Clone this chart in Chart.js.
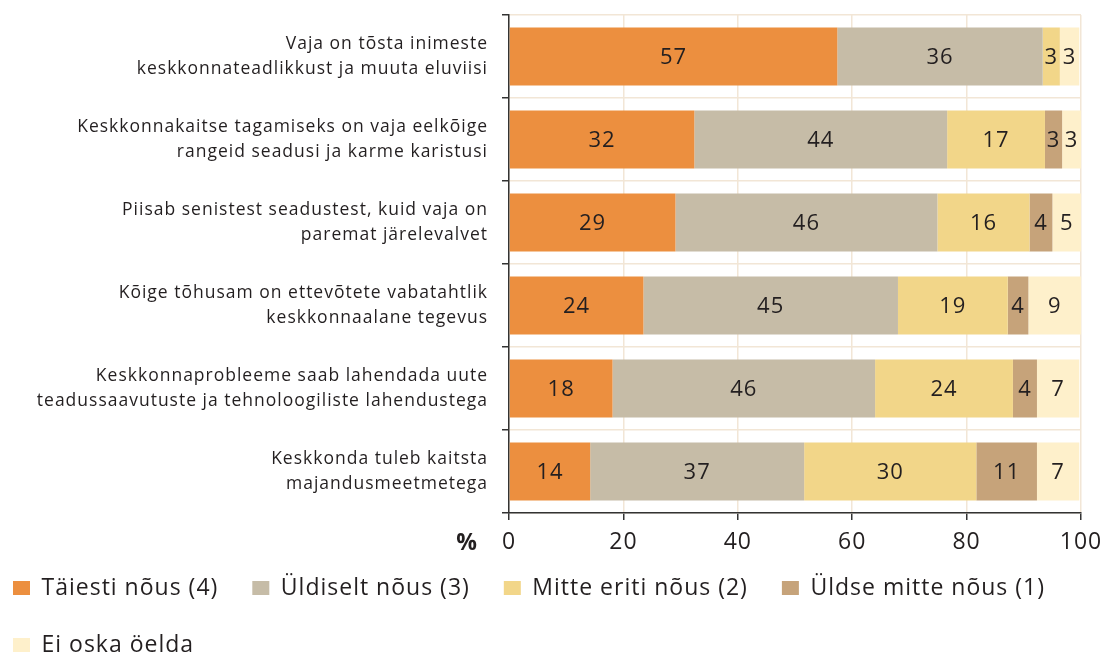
<!DOCTYPE html>
<html>
<head>
<meta charset="utf-8">
<script src="https://cdn.jsdelivr.net/npm/chart.js@4.4.1/dist/chart.umd.min.js"></script>
<style>
  html, body { margin: 0; padding: 0; background: #fff; }
  #wrap { width: 1104px; height: 656px; }
</style>
</head>
<body>
<div id="wrap"><canvas id="chart"></canvas></div>
<script>
// andmed
const categories = [
    ["Vaja on tõsta inimeste", "keskkonnateadlikkust ja muuta eluviisi"],
    ["Keskkonnakaitse tagamiseks on vaja eelkõige", "rangeid seadusi ja karme karistusi"],
    ["Piisab senistest seadustest, kuid vaja on", "paremat järelevalvet"],
    ["Kõige tõhusam on ettevõtete vabatahtlik", "keskkonnaalane tegevus"],
    ["Keskkonnaprobleeme saab lahendada uute", "teadussaavutuste ja tehnoloogiliste lahendustega"],
    ["Keskkonda tuleb kaitsta", "majandusmeetmetega"]
];
const seriesNames = ["Täiesti nõus (4)", "Üldiselt nõus (3)", "Mitte eriti nõus (2)", "Üldse mitte nõus (1)", "Ei oska öelda"];
const taiestiNous = [57.4, 32.4, 29.1, 23.5, 18.1, 14.2];
const uldiseltNous = [35.9, 44.2, 45.8, 44.5, 45.9, 37.4];
const mitteEritiNous = [3.0, 17.1, 16.1, 19.2, 24.1, 30.1];
const uldseMitteNous = [0, 3.0, 4.0, 3.6, 4.2, 10.6];
const eiOskaOelda = [3.4, 3.3, 5.0, 9.2, 7.4, 7.4];
const xTicks = [0, 20, 40, 60, 80, 100];

const colors = ["#EC8F3F", "#C6BCA7", "#F2D689", "#C6A37A", "#FEF0CB"];
const textColor = "#231F20";
const gridColor = "#F2E6D6";
const axisColor = "#333333";
const fontFamily = "'Open Sans', sans-serif";

const allValues = [taiestiNous, uldiseltNous, mitteEritiNous, uldseMitteNous, eiOskaOelda];

// hõredam kiri nagu originaalis + legendi nihutamine
const spacing = {
    id: 'spacing',
    beforeUpdate(chart) { chart.ctx.letterSpacing = '1px'; },
    beforeDraw(chart) { chart.ctx.letterSpacing = '1px'; },
    afterLayout(chart) {
        const lg = chart.legend;
        lg.left -= 21;
        lg.top -= 22.5;
    }
};

// väärtused tulpade sisse
const barLabels = {
    id: 'barLabels',
    afterDatasetsDraw(chart) {
        const ctx = chart.ctx;
        ctx.save();
        ctx.font = "22px " + fontFamily;
        ctx.fillStyle = textColor;
        ctx.textAlign = 'center';
        ctx.textBaseline = 'middle';
        chart.data.datasets.forEach((ds, i) => {
            const meta = chart.getDatasetMeta(i);
            meta.data.forEach((bar, j) => {
                const v = ds.data[j];
                if (!v) return;
                ctx.fillText(String(Math.round(v)), (bar.x + bar.base) / 2, bar.y + 1);
            });
        });
        ctx.restore();
    }
};

// protsendimärk x-telje kõrval
const percentSign = {
    id: 'percentSign',
    afterDraw(chart) {
        const ctx = chart.ctx;
        const area = chart.chartArea;
        ctx.save();
        ctx.font = "bold 23px " + fontFamily;
        ctx.fillStyle = textColor;
        ctx.textAlign = 'right';
        ctx.textBaseline = 'middle';
        ctx.fillText('%', area.left - 31, area.bottom + 30);
        ctx.restore();
    }
};

new Chart(document.getElementById('chart'), {
    type: 'bar',
    data: {
        labels: categories,
        datasets: allValues.map((vals, i) => ({
            label: seriesNames[i],
            data: vals,
            backgroundColor: colors[i],
            borderWidth: 0,
            barPercentage: 0.7,
            categoryPercentage: 1.0,
        }))
    },
    options: {
        indexAxis: 'y',
        responsive: true,
        maintainAspectRatio: false,
        animation: false,
        layout: {
            padding: { top: 15, right: 0, left: 0, bottom: 0 }
        },
        scales: {
            x: {
                stacked: true,
                min: 0,
                max: 100,
                afterBuildTicks: (scale) => {
                    scale.ticks = xTicks.map(v => ({ value: v }));
                },
                afterFit: (scale) => {
                    scale.height = 52;
                    scale.paddingLeft = 0;
                    scale.paddingRight = 23;
                },
                grid: {
                    color: gridColor,
                    tickColor: axisColor,
                    tickLength: 7,
                    lineWidth: 1.5,
                },
                border: { color: axisColor, width: 1.5 },
                ticks: {
                    color: textColor,
                    font: { size: 23, family: fontFamily },
                    padding: 9,
                },
            },
            y: {
                stacked: true,
                afterFit: (scale) => {
                    scale.width = 509;
                    scale.paddingTop = 0;
                    scale.paddingBottom = 0;
                },
                grid: {
                    color: gridColor,
                    tickColor: axisColor,
                    tickLength: 7,
                    lineWidth: 1.5,
                    offset: true,
                },
                border: { color: axisColor, width: 1.5 },
                ticks: {
                    color: textColor,
                    font: { size: 17.5, family: fontFamily, lineHeight: 1.4 },
                    padding: 14,
                },
            },
        },
        plugins: {
            legend: {
                position: 'bottom',
                align: 'start',
                maxHeight: 91,
                labels: {
                    boxWidth: 17,
                    boxHeight: 14,
                    padding: 34,
                    color: textColor,
                    font: { size: 23, family: fontFamily },
                },
            },
            tooltip: { enabled: false },
        },
    },
    plugins: [spacing, barLabels, percentSign],
});
</script>
</body>
</html>
